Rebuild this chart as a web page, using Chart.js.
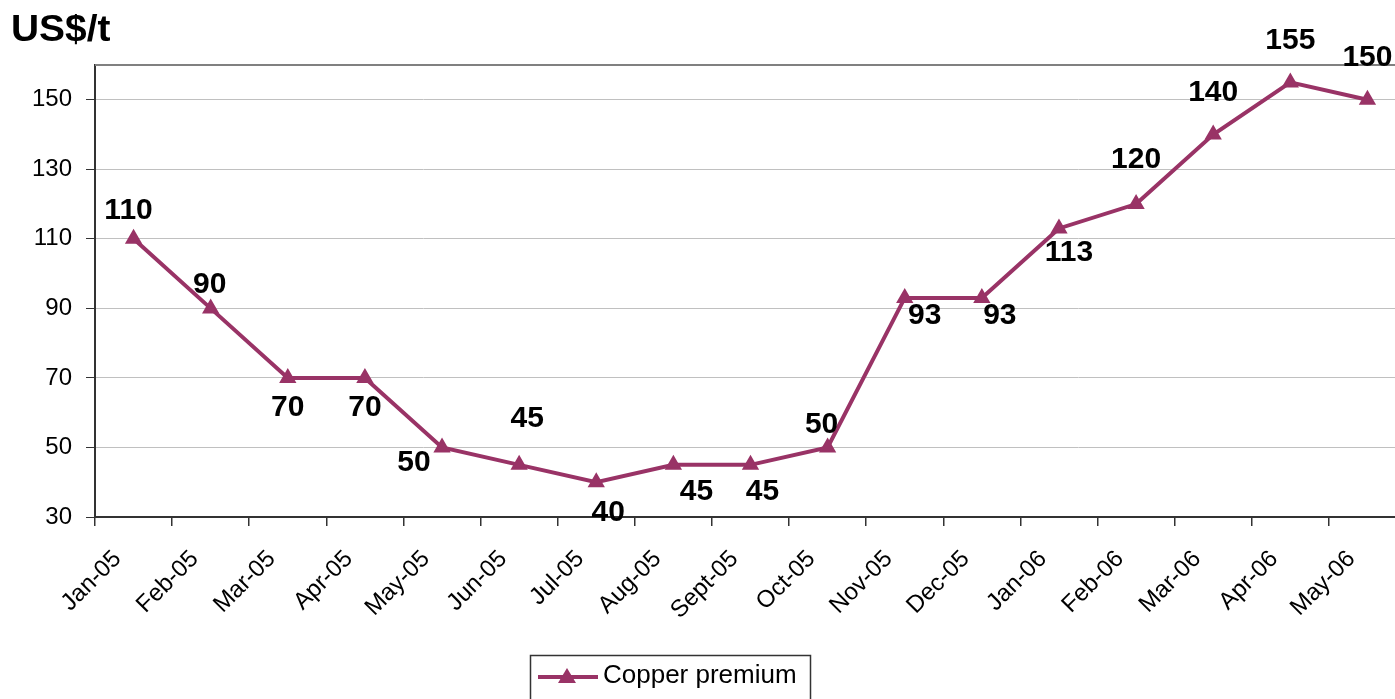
<!DOCTYPE html>
<html>
<head>
<meta charset="utf-8">
<title>Copper premium</title>
<script src="https://cdn.jsdelivr.net/npm/chart.js@4.4.0/dist/chart.umd.min.js"></script>
<style>
  html, body { margin: 0; padding: 0; background: #fff; overflow: hidden; }
  #wrap { width: 1416px; height: 699px; }
</style>
</head>
<body>
<div id="wrap"><canvas id="chart1" width="1416" height="699"></canvas></div>
<script>
// categories and values
const months = ["Jan-05", "Feb-05", "Mar-05", "Apr-05", "May-05", "Jun-05", "Jul-05", "Aug-05",
  "Sept-05", "Oct-05", "Nov-05", "Dec-05", "Jan-06", "Feb-06", "Mar-06", "Apr-06", "May-06"];
const premium = [110, 90, 70, 70, 50, 45, 40, 45, 45, 50, 93, 93, 113, 120, 140, 155, 150];
const yTicks = [30, 50, 70, 90, 110, 130, 150];
const seriesName = "Copper premium";
const unitTitle = "US$/t";

// where each value label sits relative to its point (dx, dy in px)
const labelShift = [[-5, -28], [-1, -24], [0, 30], [0, 30], [-28, 15], [8, -46], [12, 31], [23, 27],
  [12, 27], [-6, -23], [20, 18], [18, 18], [10, 24], [0, -44], [0, -42], [0, -42], [0, -42]];

const plum = "#993366";
const fontName = "'Liberation Sans', Arial, sans-serif";

const extras = {
  id: "extras",
  beforeDatasetsDraw(chart) {
    const ctx = chart.ctx, a = chart.chartArea;
    ctx.save();
    ctx.strokeStyle = "#808080";
    ctx.lineWidth = 2;
    ctx.beginPath();
    ctx.moveTo(a.left, a.top);
    ctx.lineTo(a.right, a.top);
    ctx.stroke();
    ctx.restore();
  },
  afterDatasetsDraw(chart) {
    const ctx = chart.ctx;
    const meta = chart.getDatasetMeta(0);
    ctx.save();
    // value labels
    ctx.fillStyle = "#000";
    ctx.font = "bold 30px " + fontName;
    ctx.textAlign = "center";
    ctx.textBaseline = "middle";
    meta.data.forEach((pt, i) => {
      const s = labelShift[i];
      ctx.fillText(String(premium[i]), pt.x + s[0], pt.y + s[1]);
    });
    // unit title
    ctx.font = "bold 36px " + fontName;
    ctx.textAlign = "left";
    ctx.textBaseline = "alphabetic";
    ctx.save();
    ctx.translate(11, 41);
    ctx.scale(1.08, 1);
    ctx.fillText(unitTitle, 0, 0);
    ctx.restore();
    // legend
    ctx.strokeStyle = "#333";
    ctx.lineWidth = 1.5;
    ctx.strokeRect(530.5, 655.5, 280, 70);
    ctx.strokeStyle = plum;
    ctx.lineWidth = 4;
    ctx.beginPath();
    ctx.moveTo(538, 677);
    ctx.lineTo(598, 677);
    ctx.stroke();
    ctx.fillStyle = plum;
    ctx.beginPath();
    ctx.moveTo(567, 668);
    ctx.lineTo(576, 683);
    ctx.lineTo(558, 683);
    ctx.closePath();
    ctx.fill();
    ctx.fillStyle = "#000";
    ctx.font = "26px " + fontName;
    ctx.textBaseline = "middle";
    ctx.fillText(seriesName, 603, 676);
    ctx.restore();
  }
};

const ctx = document.getElementById("chart1");
const dataset = {
  labels: months,
  datasets: [{
    label: seriesName,
    data: premium,
    borderColor: plum,
    backgroundColor: plum,
    borderWidth: 4,
    pointStyle: "triangle",
    pointRadius: 8,
    pointBorderWidth: 2,
    pointBorderColor: plum,
    pointBackgroundColor: plum,
    tension: 0,
    fill: false
  }]
};

const config = {
  type: "line",
  data: dataset,
  options: {
    responsive: false,
    animation: false,
    devicePixelRatio: 1,
    layout: { padding: { top: 65, left: 0, right: 0, bottom: 0 } },
    plugins: { legend: { display: false }, tooltip: { enabled: false } },
    scales: {
      x: {
        type: "category",
        offset: true,
        grid: { offset: true, drawOnChartArea: false, drawTicks: true, tickLength: 9, tickColor: "#333", lineWidth: 1.5 },
        border: { color: "#333", width: 2 },
        ticks: {
          color: "#000",
          font: { family: fontName, size: 24 },
          minRotation: 45,
          maxRotation: 45,
          autoSkip: false,
          labelOffset: -16,
          padding: 19
        },
        afterFit: (scale) => { scale.height = 182; }
      },
      y: {
        min: 30,
        max: 160,
        afterBuildTicks: (scale) => { scale.ticks = yTicks.map(v => ({ value: v })); },
        grid: { color: "#c0c0c0", lineWidth: 1, tickLength: 9, tickColor: "#333" },
        border: { color: "#333", width: 2 },
        ticks: {
          color: "#000",
          font: { family: fontName, size: 24 },
          padding: 14
        },
        afterFit: (scale) => { scale.width = 95; }
      }
    }
  },
  plugins: [extras]
};

const chart = new Chart(ctx, config);
</script>
</body>
</html>
